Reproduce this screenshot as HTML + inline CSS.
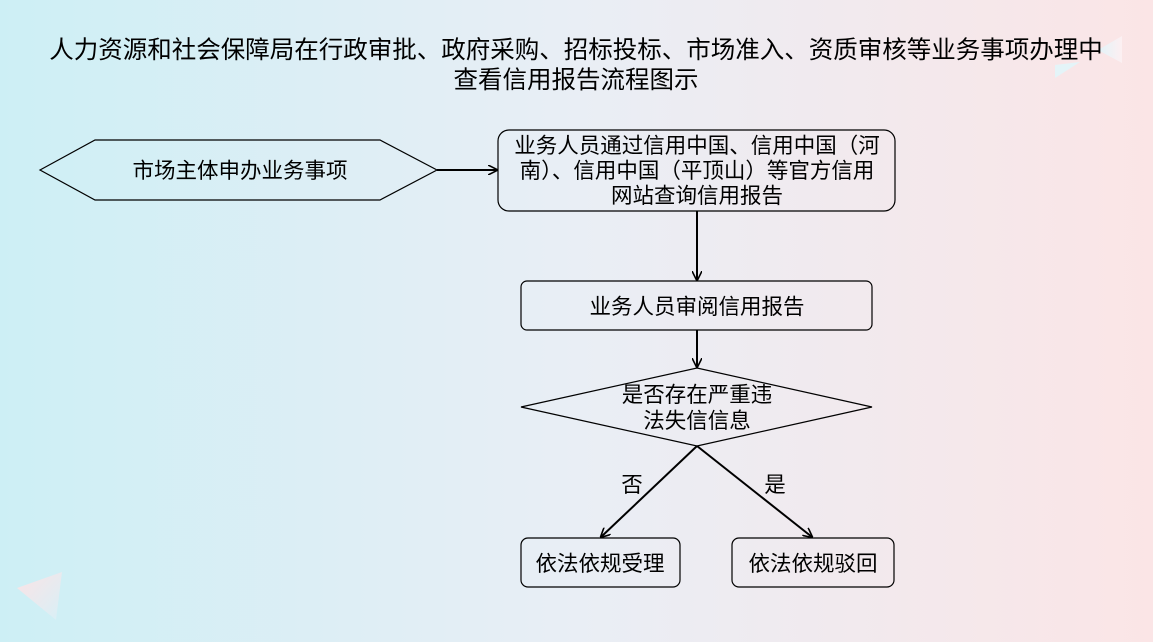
<!DOCTYPE html>
<html><head><meta charset="utf-8"><style>
html,body{margin:0;padding:0;}
body{width:1153px;height:642px;overflow:hidden;background:linear-gradient(90deg,#cdeff5 0%,#e9eef5 50%,#fbe5e6 100%);}
svg{position:absolute;left:0;top:0;}
text{font-family:"Liberation Sans","Noto Sans CJK SC",sans-serif;fill:#000;}
</style></head><body>
<svg width="1153" height="642" viewBox="0 0 1153 642">
<defs>
<marker id="a" markerWidth="10" markerHeight="10" refX="9" refY="5" orient="auto" markerUnits="userSpaceOnUse">
<path d="M0,0 L10,5 L0,10" fill="none" stroke="#000" stroke-width="1.6"/></marker>
<linearGradient id="t1" x1="0" y1="0" x2="1" y2="1"><stop offset="0" stop-color="#fbe3e5"/><stop offset="1" stop-color="#d8f0f7"/></linearGradient>
<linearGradient id="t2" x1="0" y1="0" x2="1" y2="0"><stop offset="0" stop-color="#e2f3f8"/><stop offset="1" stop-color="#fdf0f2"/></linearGradient>
</defs>
<polygon points="17,588 62,572 56,620" fill="url(#t1)"/>
<polygon points="1098,50 1122,36 1122,63" fill="url(#t2)"/>
<polygon points="1055,65 1080,62 1055,78" fill="#e4f4f8"/>
<text x="576" y="58" font-size="24.5" text-anchor="middle">人力资源和社会保障局在行政审批、政府采购、招标投标、市场准入、资质审核等业务事项办理中</text>
<text x="576" y="88" font-size="24.5" text-anchor="middle">查看信用报告流程图示</text>
<g fill="none" stroke="#000" stroke-width="1.2">
<polygon points="40,170 95,140 380,140 437,170 380,200 95,200"/>
<rect x="498" y="130" width="397" height="81" rx="11"/>
<rect x="521" y="281" width="351" height="49" rx="6"/>
<polygon points="521,407 697,368 872,407 697,446"/>
<rect x="521" y="538" width="159" height="49" rx="7"/>
<rect x="732" y="538" width="162" height="49" rx="7"/>
</g>
<g stroke="#000" stroke-width="2" fill="none">
<line x1="437" y1="170" x2="497" y2="170" marker-end="url(#a)"/>
<line x1="697" y1="211" x2="697" y2="280" marker-end="url(#a)"/>
<line x1="697" y1="330" x2="697" y2="367" marker-end="url(#a)"/>
<line x1="697" y1="446" x2="601" y2="537" marker-end="url(#a)"/>
<line x1="697" y1="446" x2="812" y2="537" marker-end="url(#a)"/>
</g>
<g font-size="21.5" text-anchor="middle">
<text x="240" y="178">市场主体申办业务事项</text>
<text x="697" y="153">业务人员通过信用中国、信用中国（河</text>
<text x="697" y="178">南）、信用中国（平顶山）等官方信用</text>
<text x="697" y="203">网站查询信用报告</text>
<text x="697" y="314">业务人员审阅信用报告</text>
<text x="697" y="402">是否存在严重违</text>
<text x="697" y="428">法失信信息</text>
<text x="632" y="492">否</text>
<text x="775" y="492">是</text>
<text x="600" y="571">依法依规受理</text>
<text x="813" y="571">依法依规驳回</text>
</g>
</svg>
</body></html>
